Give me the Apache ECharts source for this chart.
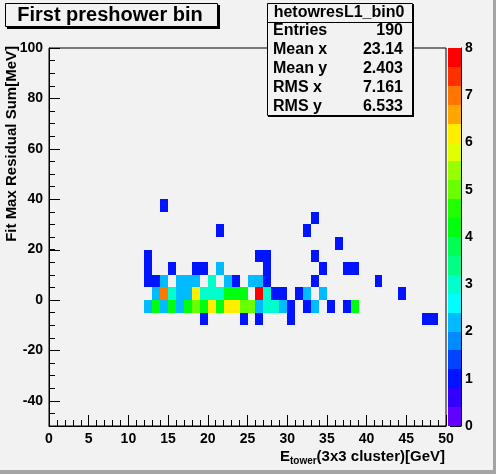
<!DOCTYPE html>
<html>
<head>
<meta charset="utf-8">
<script src="https://cdn.jsdelivr.net/npm/echarts@6/dist/echarts.min.js"></script>
<style>
  html, body { margin: 0; padding: 0; background: #f2f2f2; }
  #chart { width: 496px; height: 474px; }
</style>
</head>
<body>
<div id="chart"></div>
<script>
// histogram binning: 1 GeV in x, 5 MeV in y
const xStep = 1
const yStep = 5

// low edge of each filled y row, with the x bins and counts in it
const rowY = [35, 30, 25, 20, 15, 10, 5, 0, -5, -10]
const rowX = [
  [14],
  [33],
  [21, 32],
  [36],
  [12, 26, 27, 33],
  [12, 15, 18, 19, 21, 27, 34, 37, 38],
  [12, 13, 14, 16, 17, 18, 20, 22, 23, 25, 26, 27, 33, 41],
  [13, 14, 15, 16, 17, 18, 19, 20, 21, 22, 23, 24, 26, 27, 28, 29, 31, 32, 34, 44],
  [12, 13, 14, 15, 16, 17, 18, 19, 20, 21, 22, 23, 24, 25, 26, 27, 28, 29, 30, 32, 33, 35, 37, 38],
  [19, 24, 26, 30, 47, 48]
]
const rowN = [
  [1],
  [1],
  [1, 1],
  [1],
  [1, 1, 1, 1],
  [1, 1, 1, 1, 2, 1, 1, 1, 1],
  [1, 1, 2, 2, 2, 2, 3, 2, 1, 2, 2, 1, 1, 1],
  [2, 7, 3, 2, 2, 6, 3, 3, 3, 4, 4, 4, 8, 3, 1, 1, 1, 2, 2, 1],
  [2, 4, 2, 4, 2, 4, 5, 4, 6, 4, 6, 6, 5, 5, 2, 3, 3, 2, 1, 1, 2, 1, 1, 4],
  [1, 1, 1, 1, 1, 1]
]

const yMajor = [-40, -20, 0, 20, 40, 60, 80, 100]

const zMax = 8
const statNames = ['Entries', 'Mean x', 'Mean y', 'RMS x', 'RMS y']
const statValues = ['190', '23.14', '2.403', '7.161', '6.533']

// 20 contour levels of the ROOT rainbow palette
const palette = [
  '#6300ff', '#3300ff', '#0014ff', '#0044ff', '#008bff',
  '#00bbff', '#00fffc', '#00ffcc', '#00ff85', '#00ff55',
  '#00ff0e', '#22ff00', '#69ff00', '#99ff00', '#e0ff00',
  '#ffee00', '#ffa700', '#ff7700', '#ff3000', '#ff0000'
]

const FONT = 'Liberation Sans, Arial, sans-serif'
const BG = '#f2f2f2'

function levelOf(n) {
  return Math.min(palette.length - 1, Math.floor(n * palette.length / zMax))
}

const cells = []
rowY.forEach((y, r) => {
  rowX[r].forEach((x, i) => cells.push([x, y, rowN[r][i]]))
})

const bands = palette.map((c, i) => [i * zMax / palette.length, (i + 1) * zMax / palette.length, i])

function renderCell(params, api) {
  const x = api.value(0)
  const y = api.value(1)
  const p0 = api.coord([x, y + yStep])
  const p1 = api.coord([x + xStep, y])
  const x0 = Math.round(p0[0]), y0 = Math.round(p0[1])
  return {
    type: 'rect',
    shape: { x: x0, y: y0, width: Math.round(p1[0]) - x0, height: Math.round(p1[1]) - y0 },
    style: { fill: palette[levelOf(api.value(2))] }
  }
}

function renderBand(params, api) {
  const p0 = api.coord([0, api.value(1)])
  const p1 = api.coord([1, api.value(0)])
  const x0 = Math.round(p0[0]), y0 = Math.round(p0[1])
  return {
    type: 'rect',
    shape: { x: x0, y: y0, width: Math.round(p1[0]) - x0, height: Math.round(p1[1]) - y0 },
    style: { fill: palette[api.value(2)] }
  }
}

// long tick on the labelled y values (the axis itself draws the short 5 MeV ones)
function renderMajorTick(params, api) {
  const p = api.coord([0, api.value(0)])
  const y = Math.round(p[1]) + 0.5
  return {
    type: 'line',
    shape: { x1: p[0], y1: y, x2: p[0] + 11, y2: y },
    style: { stroke: '#000', lineWidth: 1 }
  }
}

const labelStyle = { color: '#000', fontFamily: FONT, fontWeight: 'bold', fontSize: 14 }
const blackLine = { lineStyle: { color: '#000', width: 1 } }

const statText = []
statNames.forEach((name, i) => {
  statText.push({
    type: 'text', left: 273, top: 23 + i * 18.8,
    style: { text: name, font: 'bold 16px ' + FONT, fill: '#000' }
  })
  statText.push({
    type: 'text', right: 93, top: 23 + i * 18.8,
    style: { text: statValues[i], font: 'bold 16px ' + FONT, fill: '#000' }
  })
})

const chart = echarts.init(document.getElementById('chart'))

chart.setOption({
  backgroundColor: BG,
  animation: false,
  grid: [
    { left: 49, top: 48, width: 397, height: 378, show: true, borderColor: '#000', borderWidth: 1, backgroundColor: 'transparent' },
    { left: 448, top: 48, width: 13, height: 378 }
  ],
  xAxis: [
    {
      type: 'value', gridIndex: 0, min: 0, max: 50, interval: 5,
      axisLine: { onZero: false, ...blackLine },
      axisTick: { inside: true, length: 11, ...blackLine },
      minorTick: { show: true, splitNumber: 5, length: 6, ...blackLine },
      axisLabel: { ...labelStyle, margin: 6 },
      splitLine: { show: false }
    },
    { type: 'value', gridIndex: 1, min: 0, max: 1, show: false }
  ],
  yAxis: [
    {
      type: 'value', gridIndex: 0, min: -50, max: 100, interval: yStep,
      axisLine: { show: true, onZero: false, ...blackLine },
      axisTick: { show: true, inside: true, length: 6, ...blackLine },
      axisLabel: {
        ...labelStyle, margin: 6, hideOverlap: false,
        formatter: v => (yMajor.indexOf(v) >= 0 ? String(v) : '')
      },
      splitLine: { show: false }
    },
    {
      type: 'value', gridIndex: 1, min: 0, max: zMax, interval: 1, position: 'right',
      axisLine: { show: true, onZero: false, ...blackLine },
      axisTick: { inside: true, length: 11, ...blackLine },
      axisLabel: { ...labelStyle, margin: 4 },
      splitLine: { show: false }
    }
  ],
  series: [
    {
      type: 'custom', xAxisIndex: 0, yAxisIndex: 0,
      renderItem: renderCell, data: cells, encode: { x: 0, y: 1 }, z: 1
    },
    {
      type: 'custom', xAxisIndex: 0, yAxisIndex: 0, silent: true,
      renderItem: renderMajorTick, data: yMajor.map(v => [v]), encode: { y: 0 }, z: 3
    },
    {
      type: 'custom', xAxisIndex: 1, yAxisIndex: 1,
      renderItem: renderBand, data: bands, encode: { y: [0, 1] }
    }
  ],
  graphic: [
    // canvas bevel
    { type: 'rect', shape: { x: 0, y: 470, width: 496, height: 4 }, style: { fill: '#a4a4a4' } },
    { type: 'rect', shape: { x: 493, y: 0, width: 3, height: 474 }, style: { fill: '#a4a4a4' } },
    // title box
    { type: 'rect', shape: { x: 7, y: 5, width: 213, height: 24 }, style: { fill: '#000' }, z: 10 },
    { type: 'rect', shape: { x: 5.5, y: 3.5, width: 212, height: 23 }, style: { fill: BG, stroke: '#000', lineWidth: 1 }, z: 11 },
    {
      type: 'text', x: 110, y: 15, z: 12,
      style: { text: 'First preshower bin', font: 'bold 20px ' + FONT, fill: '#000', align: 'center', verticalAlign: 'middle' }
    },
    // stats box
    {
      type: 'group', z: 20,
      children: [
        { type: 'rect', shape: { x: 268, y: 4, width: 146, height: 113 }, style: { fill: '#000' } },
        { type: 'rect', shape: { x: 267.5, y: 3.5, width: 145, height: 112 }, style: { fill: BG, stroke: '#000', lineWidth: 1 } },
        { type: 'line', shape: { x1: 267.5, y1: 22.5, x2: 412.5, y2: 22.5 }, style: { stroke: '#000', lineWidth: 1 } },
        {
          type: 'text', x: 339, y: 13,
          style: { text: 'hetowresL1_bin0', font: 'bold 16px ' + FONT, fill: '#000', align: 'center', verticalAlign: 'middle' }
        }
      ]
    },
    ...statText.map(t => ({ ...t, z: 21 })),
    // axis titles
    {
      type: 'text', x: 12, y: 46, rotation: Math.PI / 2,
      style: { text: 'Fit Max Residual Sum[MeV]', font: 'bold 15px ' + FONT, fill: '#000', align: 'right', verticalAlign: 'middle' }
    },
    {
      type: 'text', x: 445, y: 457,
      style: {
        text: '{b|E}{s|tower}{b|(3x3 cluster)[GeV]}',
        align: 'right', verticalAlign: 'middle',
        rich: {
          b: { font: 'bold 15px ' + FONT, fill: '#000' },
          s: { font: 'bold 10px ' + FONT, fill: '#000', padding: [9, 0, 0, 0] }
        }
      }
    }
  ]
})
</script>
</body>
</html>
